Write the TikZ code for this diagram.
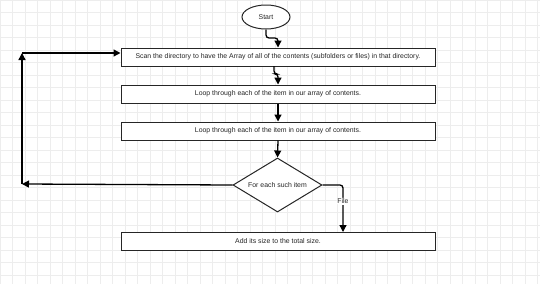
\documentclass[tikz,border=0pt]{standalone}
\usepackage{fontspec}
\setmainfont{Liberation Sans}
\usetikzlibrary{shapes.geometric,arrows.meta}
\begin{document}
\begin{tikzpicture}[x=1pt,y=-1pt,
  txt/.style={font=\fontsize{6.9}{8}\selectfont,text=black!85},
  box/.style={draw=black!85,line width=1pt,minimum width=314pt,minimum height=18pt,inner sep=0pt,txt,fill=white},
  term/.style={ellipse,draw=black!85,line width=1pt,minimum width=48pt,minimum height=24pt,inner sep=0pt,txt,fill=white},
  dec/.style={diamond,draw=black!85,line width=1pt,minimum width=89pt,minimum height=54pt,inner sep=0pt,txt,fill=white,aspect=1.65},
  conn/.style={line width=1.3pt,-{Triangle[length=7pt,width=7pt]},rounded corners=3pt},
  lbl/.style={txt,fill=white,inner sep=1pt},
  gridline/.style={black!7,line width=0.5pt}]
\useasboundingbox (0,0) rectangle (540,284);
\fill[white] (0,0) rectangle (540,284);
\foreach \gx in {0,12.5,...,540} \draw[gridline] (\gx,0) -- (\gx,284);
\foreach \gy in {0,12.5,...,284} \draw[gridline] (0,\gy) -- (540,\gy);
\node[term] (start) at (266,17) {Start};
\node[box] (scan) at (278,57) {Scan the directory to have the Array of all of the contents (subfolders or files) in that directory.};
\node[box] (loop1) at (278,94) {Loop through each of the item in our array of contents.};
\node[box] (loop2) at (278,131) {Loop through each of the item in our array of contents.};
\node[dec] (each) at (277.5,185) {For each such item};
\node[box] (add) at (278,241) {Add its size to the total size.};
\coordinate (bl) at (22,184);
\coordinate (tl) at (22,53);
\draw[conn] (start.south) -- (266,38) -- (278,38) -- (scan.north);
\draw[conn] (274,66) -- (274,74) -- (278,74) -- (loop1.north);
\draw[conn] (loop1.south) -- (loop2.north);
\draw[conn] (loop2.south) -- (each.north);
\draw[conn] (each.west) -- (bl);
\draw[conn] (bl) -- (tl);
\draw[conn] (tl) -- (tl -| scan.west);
\draw[conn] (each.east) -- (343,185) -- (343,232) node[lbl,pos=0.35] {File};
\end{tikzpicture}
\end{document}
